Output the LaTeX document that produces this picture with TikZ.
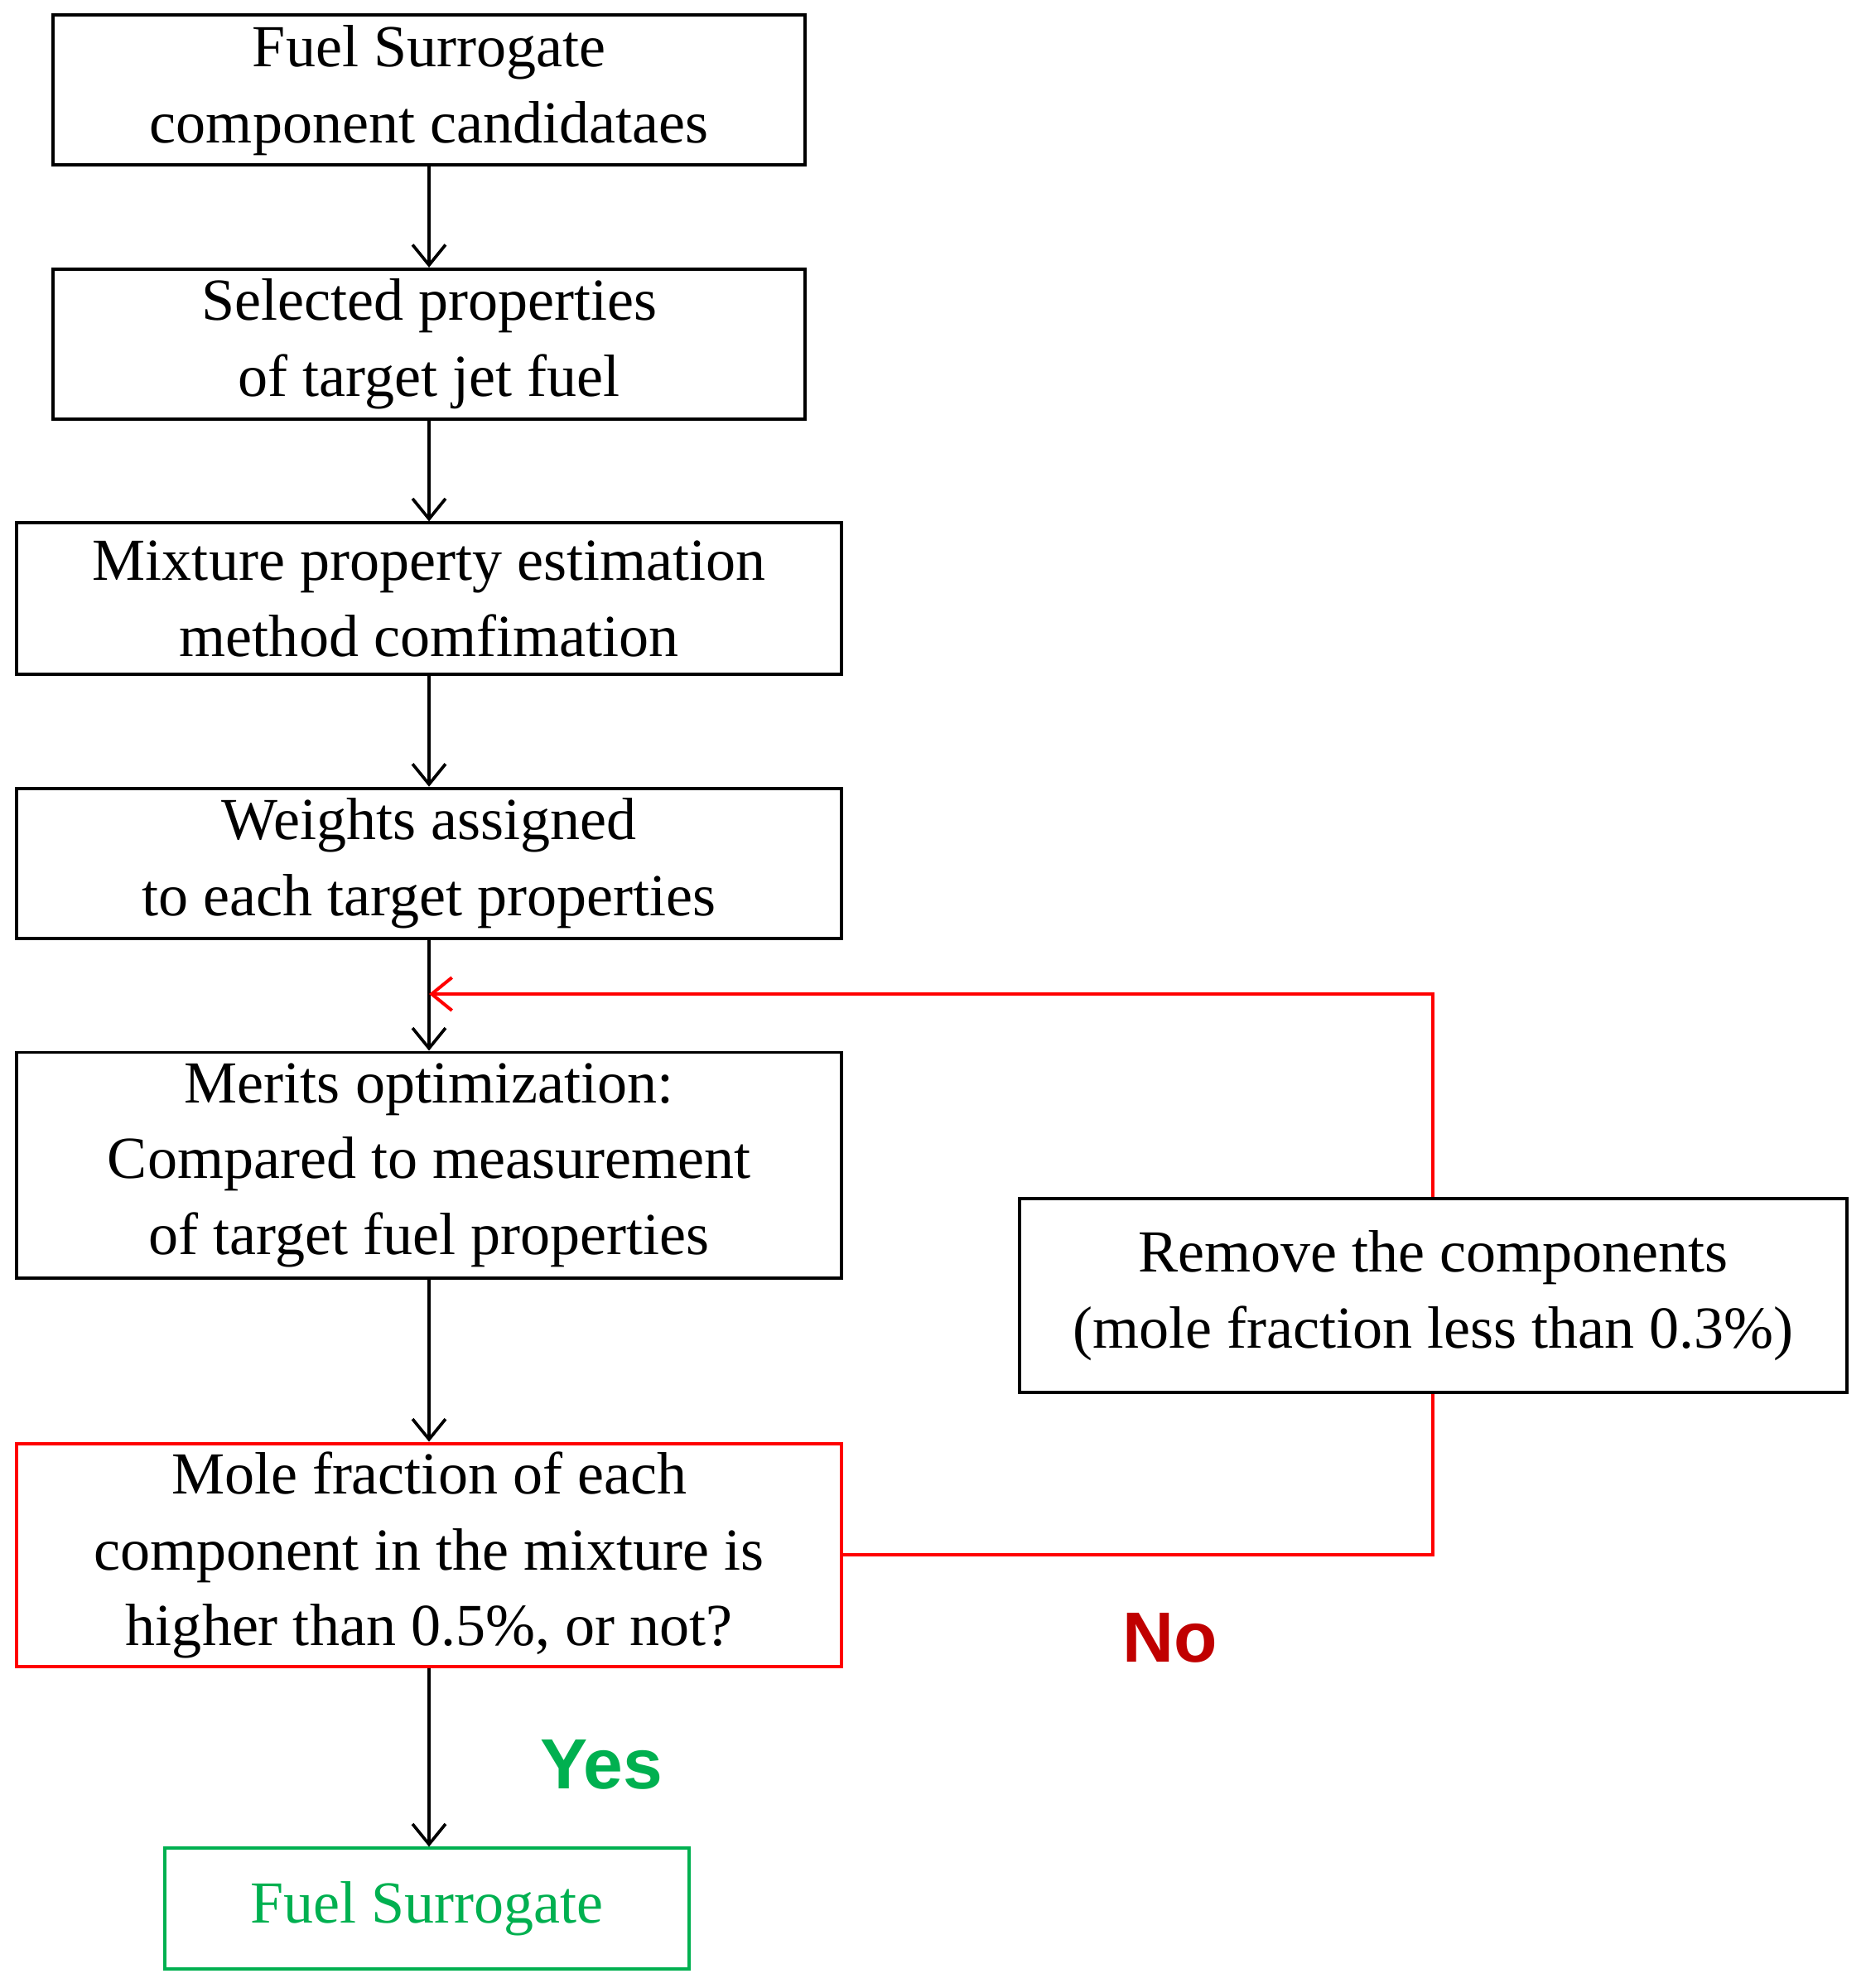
\documentclass[tikz,border=0pt]{standalone}
\usepackage{fontspec}
\setmainfont{Liberation Serif}
\newfontfamily\sansb{Liberation Sans}
\usetikzlibrary{arrows.meta}
\definecolor{myred}{RGB}{255,0,0}
\definecolor{mygreen}{RGB}{0,176,80}
\definecolor{darkred}{RGB}{192,0,0}
\begin{document}
\begin{tikzpicture}[x=0.5pt,y=-0.5pt,
  box/.style={draw,line width=1.3pt,align=center,inner sep=0pt,font=\fontsize{23.5}{30}\selectfont},
  arr/.style={line width=1.2pt,-{Straight Barb[length=8pt,width=13pt,line width=1.2pt]}}]
\useasboundingbox (0,0) rectangle (1470,1566);
\node[box,minimum width=296pt,minimum height=59pt] (b1) at (338,71) {Fuel Surrogate\\component candidataes};
\node[box,minimum width=296pt,minimum height=59pt] (b2) at (338,271) {Selected properties\\of target jet fuel};
\node[box,minimum width=325pt,minimum height=59.5pt] (b3) at (338,471.5) {Mixture property estimation\\method comfimation};
\node[box,minimum width=325pt,minimum height=59pt] (b4) at (338,680) {Weights assigned\\to each target properties};
\node[box,minimum width=325pt,minimum height=89pt] (b5) at (338,918) {Merits optimization:\\Compared to measurement\\of target fuel properties};
\node[box,draw=myred,minimum width=325pt,minimum height=88pt] (b6) at (338,1225) {Mole fraction of each\\component in the mixture is\\higher than 0.5\%, or not?};
\node[box,draw=mygreen,text=mygreen,minimum width=206.5pt,minimum height=47.5pt] (b7) at (336.5,1503.5) {Fuel Surrogate};
\node[box,minimum width=326pt,minimum height=76.5pt] (r) at (1129,1020.5) {Remove the components\\(mole fraction less than 0.3\%)};
\draw[arr] (b1) -- (b2);
\draw[arr] (b2) -- (b3);
\draw[arr] (b3) -- (b4);
\draw[arr] (b4) -- (b5);
\draw[arr] (b5) -- (b6);
\draw[arr] (b6.south) -- (b6.south |- b7.north);
\coordinate (m) at (338,783);
\draw[myred,line width=1.3pt] (b6.east) -| (r.south);
\draw[myred,line width=1.3pt,-{Straight Barb[length=8pt,width=13pt,line width=1.3pt]}] (r.north) |- (m);
\node[font=\sansb\bfseries\fontsize{28}{30}\selectfont,text=darkred] (no) at (922,1290) {No};
\node[font=\sansb\bfseries\fontsize{28}{30}\selectfont,text=mygreen] (yes) at (474,1390) {Yes};
\end{tikzpicture}
\end{document}
